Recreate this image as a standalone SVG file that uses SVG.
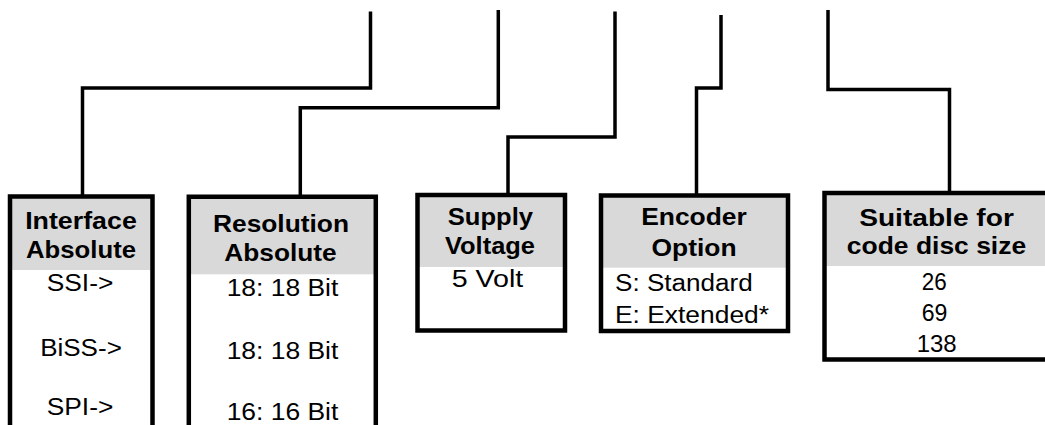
<svg xmlns="http://www.w3.org/2000/svg" width="1045" height="425" viewBox="0 0 1045 425">
<style>
.conn{fill:none;stroke:#000;stroke-width:3.5;stroke-linejoin:miter;stroke-linecap:butt}
.box{fill:none;stroke:#000;stroke-width:4.5;stroke-linejoin:miter}
.hdr{fill:#d9d9d9;stroke:none}
.h{font-family:"Liberation Sans",Arial,Helvetica,sans-serif;font-weight:bold;font-size:24.5px;fill:#000;text-anchor:middle}
.b{font-family:"Liberation Sans",Arial,Helvetica,sans-serif;font-size:23px;fill:#000;text-anchor:middle}
.bl{font-family:"Liberation Sans",Arial,Helvetica,sans-serif;font-size:23px;fill:#000;text-anchor:start}
</style>
<rect width="1045" height="425" fill="#fff"/>
<g id="connectors">
<path class="conn" d="M370.5,11.5 V88 H82.5 V195"/>
<path class="conn" d="M498.3,10 V107.7 H300.3 V195"/>
<path class="conn" d="M615,11.5 V137 H508 V194"/>
<path class="conn" d="M721,15 V88 H696.5 V194"/>
<path class="conn" d="M828,10 V89.4 H949.5 V191"/>
</g>
<g id="node-interface">
<rect class="hdr" x="10" y="196.5" width="142.5" height="73.5"/>
<path class="box" d="M10,440 V196.5 H152.5 V440"/>
<text class="h" x="81" y="229" textLength="111.7" lengthAdjust="spacingAndGlyphs">Interface</text>
<text class="h" x="81" y="258" textLength="110" lengthAdjust="spacingAndGlyphs">Absolute</text>
<text class="b" x="80" y="291" textLength="66.7" lengthAdjust="spacingAndGlyphs">SSI-&gt;</text>
<text class="b" x="81" y="356" textLength="81.7" lengthAdjust="spacingAndGlyphs">BiSS-&gt;</text>
<text class="b" x="80" y="414.5" textLength="66.7" lengthAdjust="spacingAndGlyphs">SPI-&gt;</text>
</g>
<g id="node-resolution">
<rect class="hdr" x="188.8" y="196.7" width="187" height="77.6"/>
<path class="box" d="M188.8,440 V196.7 H375.8 V440"/>
<text class="h" x="281" y="232" textLength="136" lengthAdjust="spacingAndGlyphs">Resolution</text>
<text class="h" x="280.5" y="260.5" textLength="112.3" lengthAdjust="spacingAndGlyphs">Absolute</text>
<text class="b" x="282.5" y="295.7" textLength="111.7" lengthAdjust="spacingAndGlyphs">18: 18 Bit</text>
<text class="b" x="282.5" y="359.3" textLength="111.7" lengthAdjust="spacingAndGlyphs">18: 18 Bit</text>
<text class="b" x="282.5" y="420" textLength="111.7" lengthAdjust="spacingAndGlyphs">16: 16 Bit</text>
</g>
<g id="node-supply">
<rect class="hdr" x="417.5" y="195" width="147.5" height="72"/>
<rect class="box" x="417.5" y="195" width="147.5" height="135.5"/>
<text class="h" x="490.4" y="224.5" textLength="85.3" lengthAdjust="spacingAndGlyphs">Supply</text>
<text class="h" x="490" y="253.5" textLength="90" lengthAdjust="spacingAndGlyphs">Voltage</text>
<text class="b" x="487.5" y="287" textLength="71.7" lengthAdjust="spacingAndGlyphs">5 Volt</text>
</g>
<g id="node-encoder">
<rect class="hdr" x="601" y="195.5" width="187" height="72.2"/>
<rect class="box" x="601" y="195.5" width="187" height="135.5"/>
<text class="h" x="694" y="225" textLength="105.7" lengthAdjust="spacingAndGlyphs">Encoder</text>
<text class="h" x="694" y="255.5" textLength="85" lengthAdjust="spacingAndGlyphs">Option</text>
<text class="bl" x="615" y="291" textLength="137.7" lengthAdjust="spacingAndGlyphs">S: Standard</text>
<text class="bl" x="615" y="323" textLength="154" lengthAdjust="spacingAndGlyphs">E: Extended*</text>
</g>
<g id="node-disc">
<rect class="hdr" x="824.5" y="193" width="230" height="73"/>
<path class="box" d="M1060,193 H824.5 V359.5 H1060"/>
<text class="h" x="936.5" y="225.7" textLength="154.7" lengthAdjust="spacingAndGlyphs">Suitable for</text>
<text class="h" x="936.5" y="254" textLength="179.3" lengthAdjust="spacingAndGlyphs">code disc size</text>
<text class="b" x="934.2" y="290" textLength="25" lengthAdjust="spacingAndGlyphs">26</text>
<text class="b" x="934.5" y="320.5" textLength="25.7" lengthAdjust="spacingAndGlyphs">69</text>
<text class="b" x="936.7" y="351.5" textLength="40" lengthAdjust="spacingAndGlyphs">138</text>
</g>
</svg>
